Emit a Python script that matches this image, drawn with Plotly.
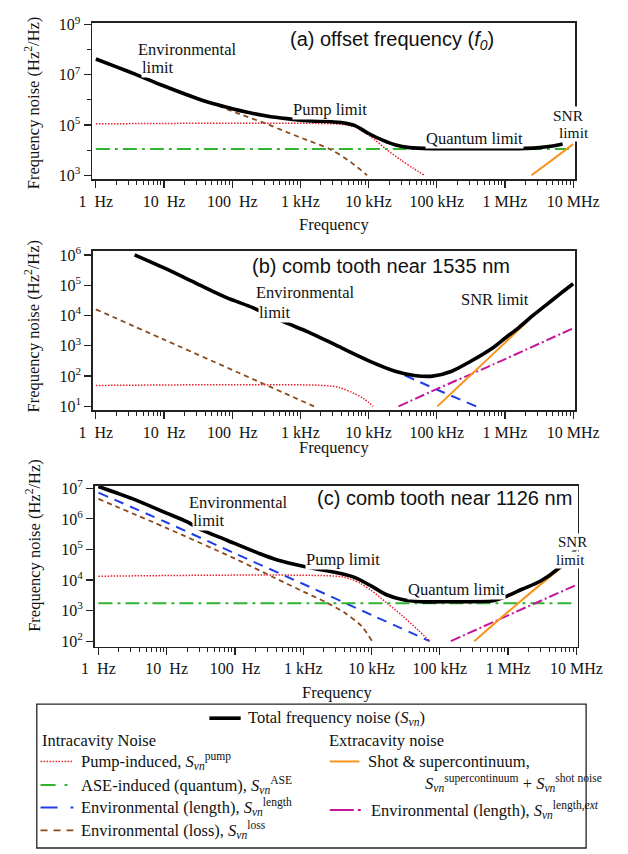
import plotly.graph_objects as go

W, H = 628, 854

# ---------------- data ----------------
# (a) offset frequency f0
a_total_f = [1, 2, 4, 10, 32, 63, 160, 320, 630, 1260, 2500, 4000, 6300, 1.0e4, 1.6e4, 2.5e4, 4.0e4, 8.0e4, 3.2e5, 1.0e6, 2.0e6, 3.2e6, 5.0e6, 7.0e6]
a_total_S = [4.3e7, 2.1e7, 1.0e7, 3.6e6, 1.1e6, 6.3e5, 3.3e5, 2.3e5, 1.8e5, 1.5e5, 1.38e5, 1.26e5, 9.5e4, 4.6e4, 2.5e4, 1.6e4, 1.26e4, 1.15e4, 1.15e4, 1.15e4, 1.18e4, 1.26e4, 1.45e4, 1.74e4]
a_pump_f = [1, 3200, 5000, 6300, 1.07e4, 1.8e4, 3.0e4, 4.5e4, 6.6e4]
a_pump_S = [1.12e5, 1.12e5, 9.8e4, 8.5e4, 3.5e4, 1.1e4, 4.0e3, 1.9e3, 1.0e3]
a_ase_f = [1, 1.0e7]
a_ase_S = [1.1e4, 1.1e4]
a_loss_f = [20, 32, 63, 126, 320, 630, 1260, 2700, 5000, 9500]
a_loss_S = [1.8e6, 1.1e6, 5.8e5, 2.8e5, 1.12e5, 5.2e4, 2.5e4, 1.1e4, 4.0e3, 1.0e3]
a_shot_f = [2.45e6, 5.0e6, 1.0e7]
a_shot_S = [1.0e3, 4.2e3, 1.74e4]

# (b) comb tooth near 1535 nm
b_total_f = [3.7, 10, 28.7, 82.6, 204, 582, 1290, 3700, 1.07e4, 2.45e4, 4.7e4, 8.7e4, 1.66e5, 3.1e5, 6.5e5, 1.0e6, 1.6e6, 2.5e6, 4.0e6, 6.3e6, 1.0e7]
b_total_S = [1.0e6, 3.7e5, 1.2e5, 3.9e4, 1.78e4, 6.0e3, 2.9e3, 930, 302, 145, 105, 100, 145, 302, 830, 1.78e3, 4.0e3, 9.5e3, 2.2e4, 5.0e4, 1.12e5]
b_pump_f = [1, 2200, 3700, 6300, 8500, 1.17e4]
b_pump_S = [49, 49, 42, 26, 18, 10]
b_len_f = [2.0e4, 1.0e5, 3.8e5]
b_len_S = [180, 36, 10]
b_loss_f = [1, 10, 550, 1580]
b_loss_S = [1.6e4, 1.6e3, 29, 10]
b_ext_f = [2.75e4, 1.07e5, 6.5e5, 1.0e7]
b_ext_S = [10, 40, 234, 3.8e3]
b_shot_f = [1.02e5, 3.2e5, 1.0e6, 2.45e6]
b_shot_S = [10, 112, 1.26e3, 8.5e3]

# (c) comb tooth near 1126 nm
c_total_f = [1, 3.2, 9.2, 20.4, 29.5, 76, 219, 407, 1070, 3400, 5750, 1.0e4, 1.66e4, 2.8e4, 5.2e4, 1.35e5, 6.0e5, 8.3e5, 1.6e6, 3.0e6, 5.6e6, 7.8e6, 1.0e7]
c_total_S = [1.15e7, 4.5e6, 1.66e6, 7.8e5, 4.8e5, 2.0e5, 7.6e4, 4.6e4, 2.7e4, 1.66e4, 1.2e4, 6.3e3, 3.3e3, 2.3e3, 1.95e3, 1.95e3, 2.1e3, 2.6e3, 5.0e3, 9.3e3, 2.5e4, 5.2e4, 1.12e5]
c_pump_f = [1, 3200, 5000, 7000, 1.0e4, 1.66e4, 2.8e4, 4.8e4, 7.1e4]
c_pump_S = [1.33e4, 1.32e4, 1.07e4, 7.6e3, 4.5e3, 1.8e3, 690, 230, 100]
c_ase_f = [1, 1.0e7]
c_ase_S = [1.75e3, 1.75e3]
c_len_f = [1, 10, 100, 1000, 1.0e4, 7.1e4]
c_len_S = [7.2e6, 7.6e5, 7.4e4, 7.4e3, 720, 100]
c_loss_f = [1, 10, 100, 400, 1000, 2240, 4200, 7100, 1.02e4]
c_loss_S = [4.5e6, 5.0e5, 5.0e4, 1.12e4, 4.2e3, 1.8e3, 800, 316, 100]
c_ext_f = [1.45e5, 1.0e6, 1.0e7]
c_ext_S = [100, 700, 6.9e3]
c_shot_f = [3.2e5, 1.6e6, 6.3e6]
c_shot_S = [100, 2.24e3, 2.8e4]

# tick labels
x_tickvals = [1, 10, 100, 1e3, 1e4, 1e5, 1e6, 1e7]
x_ticktext = ["1\u00a0\u00a0Hz", "10\u00a0\u00a0Hz", "100\u00a0\u00a0Hz", "1 kHz", "10 kHz", "100 kHz", "1 MHz", "10 MHz"]
a_ytickvals = [1e3, 1e5, 1e7, 1e9]
a_yticktext = ["10<sup>3</sup>", "10<sup>5</sup>", "10<sup>7</sup>", "10<sup>9</sup>"]
a_yminor = [1e4, 1e6, 1e8]
b_ytickvals = [1e1, 1e2, 1e3, 1e4, 1e5, 1e6]
b_yticktext = ["10<sup>1</sup>", "10<sup>2</sup>", "10<sup>3</sup>", "10<sup>4</sup>", "10<sup>5</sup>", "10<sup>6</sup>"]
c_ytickvals = [1e2, 1e3, 1e4, 1e5, 1e6, 1e7]
c_yticktext = ["10<sup>2</sup>", "10<sup>3</sup>", "10<sup>4</sup>", "10<sup>5</sup>", "10<sup>6</sup>", "10<sup>7</sup>"]

# ---------------- styles ----------------
SERIF = "Liberation Serif"
SANS = "Liberation Sans"
C_TOT = "#000000"
C_PUMP = "#e8202a"
C_ASE = "#2fb52f"
C_LEN = "#1f3fe6"
C_LOSS = "#8b4a1c"
C_SHOT = "#f7941d"
C_EXT = "#c4169a"

ST = {
    "pump": dict(color=C_PUMP, width=1.5, dash="1.5px,1.5px"),
    "ase": dict(color=C_ASE, width=2, dash="14px,5px,3px,5px"),
    "len": dict(color=C_LEN, width=2, dash="10px,7px"),
    "loss": dict(color=C_LOSS, width=1.8, dash="5px,4px"),
    "shot": dict(color=C_SHOT, width=2),
    "ext": dict(color=C_EXT, width=2, dash="10px,3px,2px,3px"),
    "tot": dict(color=C_TOT, width=3.6),
}


def px(x):
    return x / W


def py(y):
    return 1 - y / H


fig = go.Figure()


def add(fx, sy, style, i):
    suf = "" if i == 1 else str(i)
    fig.add_trace(go.Scatter(x=fx, y=sy, mode="lines", line=dict(**ST[style], shape="spline", smoothing=0.8),
                             xaxis="x" + suf, yaxis="y" + suf, showlegend=False, hoverinfo="skip"))


# panel a
add(a_loss_f, a_loss_S, "loss", 1)
add(a_pump_f, a_pump_S, "pump", 1)
add(a_ase_f, a_ase_S, "ase", 1)
add(a_shot_f, a_shot_S, "shot", 1)
add(a_total_f, a_total_S, "tot", 1)
# panel b
add(b_loss_f, b_loss_S, "loss", 2)
add(b_pump_f, b_pump_S, "pump", 2)
add(b_len_f, b_len_S, "len", 2)
add(b_ext_f, b_ext_S, "ext", 2)
add(b_shot_f, b_shot_S, "shot", 2)
add(b_total_f, b_total_S, "tot", 2)
# panel c
add(c_loss_f, c_loss_S, "loss", 3)
add(c_len_f, c_len_S, "len", 3)
add(c_pump_f, c_pump_S, "pump", 3)
add(c_ase_f, c_ase_S, "ase", 3)
add(c_ext_f, c_ext_S, "ext", 3)
add(c_shot_f, c_shot_S, "shot", 3)
add(c_total_f, c_total_S, "tot", 3)

minor_x = [m * 10 ** k for k in range(0, 7) for m in range(2, 10)]
AX = "#222222"


def xaxis(x0, x1, rng, anchor):
    return dict(type="log", domain=[px(x0), px(x1)], range=rng, anchor=anchor,
                showline=True, linecolor=AX, linewidth=1.5, mirror=True,
                ticks="outside", ticklen=7, tickwidth=1.2, tickcolor=AX,
                tickvals=x_tickvals, ticktext=x_ticktext,
                tickfont=dict(family=SERIF, size=16, color="#111"),
                showgrid=False, zeroline=False,
                minor=dict(ticks="outside", ticklen=4, tickwidth=1, tickcolor=AX, tickvals=minor_x, showgrid=False))


def yaxis(y0, y1, rng, anchor, tv, tt, minor=None):
    d = dict(type="log", domain=[py(y1), py(y0)], range=rng, anchor=anchor,
             showline=True, linecolor=AX, linewidth=1.5, mirror=True,
             ticks="outside", ticklen=7, tickwidth=1.2, tickcolor=AX,
             tickvals=tv, ticktext=tt,
             tickfont=dict(family=SERIF, size=16, color="#111"),
             showgrid=False, zeroline=False)
    if minor:
        d["minor"] = dict(ticks="outside", ticklen=4, tickwidth=1, tickcolor=AX, tickvals=minor, showgrid=False)
    return d


fig.update_layout(
    width=W, height=H, autosize=False,
    margin=dict(l=0, r=0, t=0, b=0),
    paper_bgcolor="white", plot_bgcolor="white",
    xaxis=xaxis(83.3, 598.5, [-0.055, 7.032], "y"),
    yaxis=yaxis(14, 173, [2.843, 9.078], "x", a_ytickvals, a_yticktext, a_yminor),
    xaxis2=xaxis(84, 598.5, [-0.045, 7.032], "y2"),
    yaxis2=yaxis(246, 407.7, [0.88, 6.13], "x2", b_ytickvals, b_yticktext),
    xaxis3=xaxis(86, 601, [-0.055, 7.019], "y3"),
    yaxis3=yaxis(484.7, 648.3, [1.82, 7.084], "x3", c_ytickvals, c_yticktext),
)

ann = []


def label(text, x, y, size=16.5, font=SERIF, bg="white", xanchor="left", angle=0):
    ann.append(dict(text=text, x=px(x), y=py(y), xref="paper", yref="paper", xanchor=xanchor, yanchor="middle",
                    showarrow=False, font=dict(family=font, size=size, color="#111"),
                    bgcolor=bg, borderpad=0, textangle=angle))


# titles
label("(a) offset frequency (<i>f</i><sub><i>0</i></sub>)", 292.7, 31.7, size=20, font=SANS, bg=None)
label("(b) comb tooth near 1535 nm", 253, 261.7, size=20, font=SANS, bg=None)
label("(c) comb tooth near 1126 nm", 321.7, 496.7, size=20, font=SANS, bg=None)
# in-plot labels
label("Environmental", 130.7, 41)
label("limit", 135, 59)
label("Pump limit", 296.7, 102.3)
label("Quantum limit", 438.3, 131.7)
label("SNR", 574, 108, size=15.5)
label("limit", 580, 126, size=15.5)
label("Environmental", 256.7, 288.3)
label("limit", 260, 308.3)
label("SNR limit", 476, 295)
label("Environmental", 186, 501.7)
label("limit", 190, 520)
label("Pump limit", 310.7, 559.3)
label("Quantum limit", 419.3, 590)
label("SNR", 578.8, 542, size=15)
label("limit", 576.7, 560, size=15)
# axis titles
ytitle = "Frequency noise (Hz<sup>2</sup>/Hz)"
label(ytitle, 20, 95, bg=None, xanchor="center", angle=-90)
label(ytitle, 20, 322, bg=None, xanchor="center", angle=-90)
label(ytitle, 20, 545, bg=None, xanchor="center", angle=-90)
label("Frequency", 341, 219, bg=None, xanchor="center")
label("Frequency", 341, 446, bg=None, xanchor="center")
label("Frequency", 344, 695, bg=None, xanchor="center")

# legend
S = "<i>S</i><sub><i>\u03bdn</i></sub>"
label("Total frequency noise (" + S + ")", 248.3, 721, bg=None)
label("Intracavity Noise", 28.3, 743.3, bg=None)
label("Pump-induced, " + S + "<sup>pump</sup>", 70, 765, bg=None)
label("ASE-induced (quantum), " + S + "<sup>ASE</sup>", 70, 789, bg=None)
label("Environmental (length), " + S + "<sup>length</sup>", 70, 811.7, bg=None)
label("Environmental (loss), " + S + "<sup>loss</sup>", 70, 835, bg=None)
label("Extracavity noise", 335, 743.3, bg=None)
label("Shot &amp; supercontinuum,", 376.7, 765, bg=None)
label(S + "<sup>supercontinuum</sup> + " + S + "<sup>shot noise</sup>", 436.7, 787, bg=None)
label("Environmental (length), " + S + "<sup>length,<i>ext</i></sup>", 380, 814, bg=None)

shapes = [dict(type="rect", xref="paper", yref="paper", x0=px(24.3), x1=px(610), y0=py(853), y1=py(706.7),
               line=dict(color="#222", width=1.3), fillcolor="rgba(0,0,0,0)")]


def sample(x0, x1, y, style):
    st = dict(ST[style])
    shapes.append(dict(type="line", xref="paper", yref="paper", x0=px(x0), x1=px(x1), y0=py(y), y1=py(y),
                       line=st))


sample(208.3, 241.7, 721, "tot")
sample(28.3, 63.3, 765, "pump")
shapes.append(dict(type="line", xref="paper", yref="paper", x0=px(28.3), x1=px(57), y0=py(789), y1=py(789),
                   line=dict(color=C_ASE, width=2, dash="15px,9px,4px,40px")))
shapes.append(dict(type="line", xref="paper", yref="paper", x0=px(28.3), x1=px(63.3), y0=py(811.7), y1=py(811.7),
                   line=dict(color=C_LEN, width=2, dash="17px,13px,5px,40px")))
shapes.append(dict(type="line", xref="paper", yref="paper", x0=px(28.3), x1=px(63.3), y0=py(835), y1=py(835),
                   line=dict(color=C_LOSS, width=1.8, dash="7px,6px")))
sample(336.7, 368.3, 765, "shot")
shapes.append(dict(type="line", xref="paper", yref="paper", x0=px(336.7), x1=px(370), y0=py(814.3), y1=py(814.3),
                   line=dict(color=C_EXT, width=2, dash="24px,4px,3px,40px")))

fig.update_layout(annotations=ann, shapes=shapes)
fig.write_html("out.html",
               config={"displayModeBar": False, "staticPlot": True},
               post_script="document.body.style.margin='0px';document.body.style.overflow='hidden';"
                           "document.documentElement.style.overflow='hidden';")
